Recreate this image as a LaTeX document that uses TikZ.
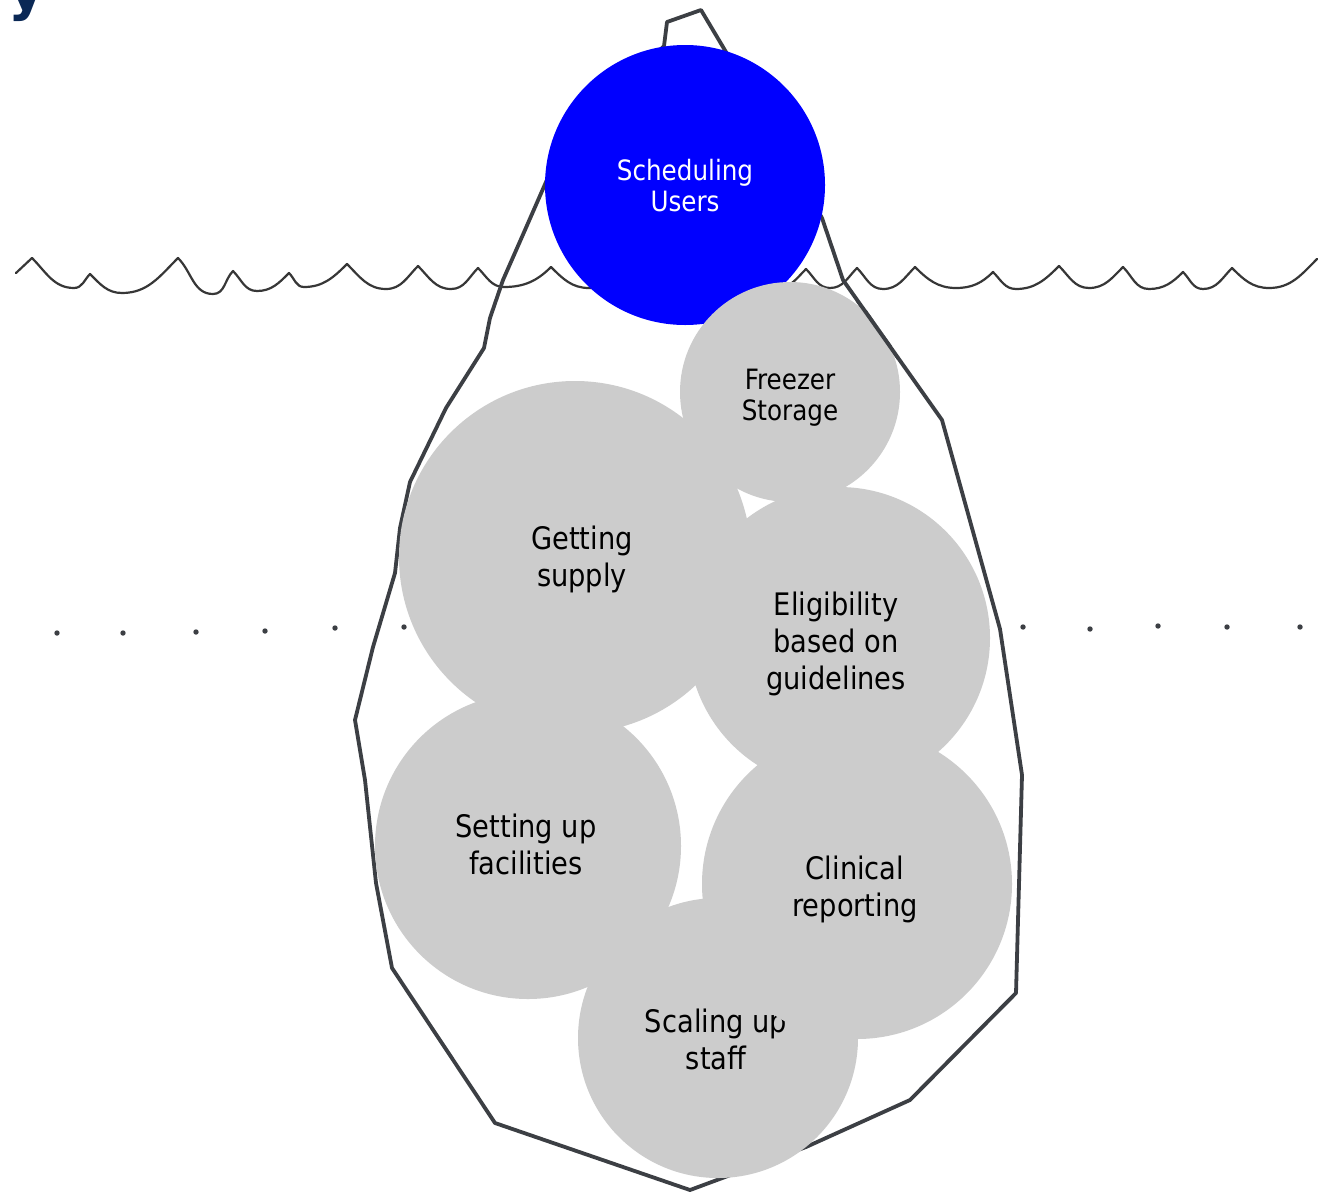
\documentclass[tikz,border=0pt]{standalone}
\usepackage{fontspec}
\setmainfont{DejaVu Sans}[FakeStretch=0.88]
\newfontfamily\ttlfont{DejaVu Sans}
\definecolor{bluefill}{RGB}{0,0,255}
\definecolor{bubgray}{RGB}{204,204,204}
\definecolor{inkc}{RGB}{60,63,68}
\definecolor{wavec}{RGB}{55,55,55}
\definecolor{navy}{RGB}{10,40,85}
\tikzset{
  bub/.style={circle, fill=bubgray, draw=none, inner sep=0pt, outer sep=0pt},
  topbub/.style={circle, fill=bluefill, draw=none, inner sep=0pt, outer sep=0pt},
  lbl/.style={anchor=base, inner sep=0pt, text=black, font=\fontsize{31}{37}\selectfont},
  lblsmall/.style={anchor=base, inner sep=0pt, text=black, font=\fontsize{28}{31}\selectfont},
  outlinec/.style={draw=inkc, line width=3.8pt, line join=round, line cap=round},
  wavel/.style={draw=wavec, line width=2.2pt, line join=round, line cap=round},
  dotm/.style={fill=inkc},
  dn/.style={out=-45, in=180},
  upp/.style={out=0, in=-135},
}
\begin{document}
\begin{tikzpicture}[x=1pt, y=-1pt]
\useasboundingbox (0,0) rectangle (1329,1194);
\fill[white] (0,0) rectangle (1329,1194);
\clip (0,0) rectangle (1329,1194);

% cropped title fragment
\node[anchor=base west, inner sep=0pt, text=navy, font=\ttlfont\bfseries\fontsize{56}{56}\selectfont] (title) at (-19,9) {ry};

% water line
\draw[wavel] (16,273) -- (32,258) to[dn] (74,288) to[upp] (90,274) to[dn] (122,293) to[upp] (178,258)
  to[dn] (213,294) to[upp] (233,271) to[dn] (257,291) to[upp] (289,273) to[dn] (304,287) to[upp] (347,264)
  to[dn] (386,289) to[upp] (418,266) to[dn] (451,289) to[upp] (478,268) to[dn] (504,287) to[upp] (551,267)
  to[dn] (589,288) to[upp] (630,268) to[dn] (680,290) to[upp] (730,268) to[dn] (775,289) to[upp] (806,269)
  to[dn] (830,288) to[upp] (857,268) to[dn] (883,289) to[upp] (915,267) to[dn] (956,288) to[upp] (993,272)
  to[dn] (1016,289) to[upp] (1059,266) to[dn] (1089,288) to[upp] (1123,267) to[dn] (1149,289) to[upp] (1183,272)
  to[dn] (1203,289) to[upp] (1232,268) to[dn] (1269,288) to[upp] (1317,259);

% dotted line
\foreach \px/\py in {57/633, 123/633, 196/632, 265/631, 335/628, 404/627,
                     1023/627, 1090/629, 1158/626, 1227/627, 1300/627}
  \fill[dotm] (\px,\py) circle (2.7);

% iceberg outline
\draw[outlinec] (664,46) -- (667,22) -- (701,10) -- (726,52) -- (822,218) -- (843,280) -- (942,420)
  -- (1000,629) -- (1022,775) -- (1016,993) -- (910,1100) -- (806,1147) -- (690,1190) -- (495,1123)
  -- (392,968) -- (376,883) -- (365,780) -- (355,720) -- (373,647) -- (395,573) -- (400,528)
  -- (410,482) -- (446,408) -- (484,348) -- (490,318) -- (503,280) -- (525,230) -- (560,150) -- cycle;

% tip of the iceberg
\node[topbub, minimum size=280pt] (sched) at (685,185) {};
\node[lblsmall, text=white] (schedT) at (685,211) {\begin{tabular}[b]{@{}c@{}}Scheduling\\Users\end{tabular}};

% below the surface
\node[bub, minimum size=352pt] (supply) at (575,557) {};
\node[lbl] (supplyT) at (582,586) {\begin{tabular}[b]{@{}c@{}}Getting\\supply\end{tabular}};

\node[bub, minimum size=302pt] (elig) at (839,638) {};
\node[lbl] (eligT) at (836,689) {\begin{tabular}[b]{@{}c@{}}Eligibility\\based on\\guidelines\end{tabular}};

\node[bub, minimum size=306pt] (facil) at (528,846) {};
\node[lbl] (facilT) at (526,874) {\begin{tabular}[b]{@{}c@{}}Setting up\\facilities\end{tabular}};

\node[bub, minimum size=280pt] (staff) at (718,1038) {};
\node[lbl] (staffT) at (716,1069) {\begin{tabular}[b]{@{}c@{}}Scaling up\\staff\end{tabular}};

\node[bub, minimum size=310pt] (clin) at (857,884) {};
\node[lbl] (clinT) at (855,916) {\begin{tabular}[b]{@{}c@{}}Clinical\\reporting\end{tabular}};

\node[bub, minimum size=220pt] (freez) at (790,392) {};
\node[lblsmall] (freezT) at (790,420) {\begin{tabular}[b]{@{}c@{}}Freezer\\Storage\end{tabular}};

% outline passing over the freezer bubble
\begin{scope}
  \clip (790,392) circle (112);
  \draw[outlinec] (726,52) -- (822,218) -- (843,280) -- (942,420) -- (1000,629);
\end{scope}
\end{tikzpicture}
\end{document}
